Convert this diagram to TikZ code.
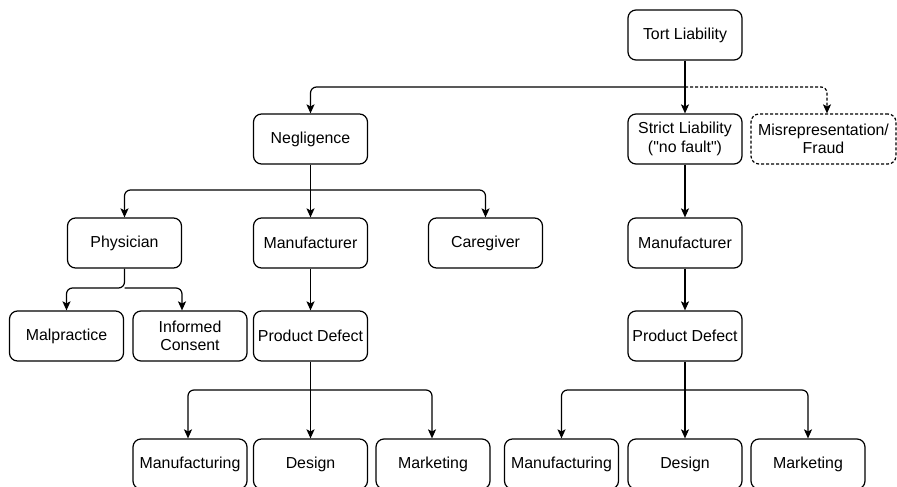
\documentclass[tikz,border=0pt]{standalone}
\usepackage{fontspec}
\setmainfont{Liberation Sans}
\usetikzlibrary{arrows.meta,calc}

\tikzset{
  box/.style={draw=black, line width=1.2pt, rounded corners=8pt,
    minimum width=114pt, minimum height=50pt, inner sep=2pt,
    align=center, font=\fontsize{15.9}{18.5}\selectfont},
  dashbox/.style={box, dashed, dash pattern=on 3pt off 2pt},
  arr/.style={draw=black, line width=1.2pt, rounded corners=6pt,
    -{Stealth[length=9pt,width=8pt,inset=2pt]}},
  dasharr/.style={arr, dash pattern=on 3pt off 2pt}
}

\begin{document}
\begin{tikzpicture}[x=1pt, y=-1pt]
  \useasboundingbox (0,0) rectangle (897,487);
  \clip (0,0) rectangle (897,487);

  % top level
  \node[box] (tort) at (685,35) {Tort Liability};
  \node[box] (neg) at (310.5,139) {Negligence};
  \node[box] (strict) at (685,139) {Strict Liability\\(\textquotedbl no fault\textquotedbl)};
  \node[dashbox, minimum width=145pt] (misrep) at (823.5,139) {Misrepresentation/\\Fraud};

  % negligence branch
  \node[box] (phys) at (124.5,243) {Physician};
  \node[box] (manN) at (310.5,243) {Manufacturer};
  \node[box] (care) at (485.5,243) {Caregiver};
  \node[box] (malp) at (66.5,336) {Malpractice};
  \node[box] (inf) at (190,336) {Informed\\Consent};
  \node[box] (pdN) at (310.5,336) {Product Defect};
  \node[box] (mfgN) at (190,464) {Manufacturing};
  \node[box] (desN) at (310.5,464) {Design};
  \node[box] (mktN) at (433,464) {Marketing};

  % strict liability branch
  \node[box] (manS) at (685,243) {Manufacturer};
  \node[box] (pdS) at (685,336) {Product Defect};
  \node[box] (mfgS) at (561.5,464) {Manufacturing};
  \node[box] (desS) at (685,464) {Design};
  \node[box] (mktS) at (808,464) {Marketing};

  % branch points
  \coordinate (b0) at (685,87);
  \coordinate (b1) at (310.5,190);
  \coordinate (b2) at (124.5,288);
  \coordinate (b3) at (310.5,390);
  \coordinate (b4) at (685,390);

  % connectors from Tort Liability
  \draw[arr] (tort.south) -- (strict.north);
  \draw[arr] (b0) -| (neg.north);
  \draw[dasharr] (b0) -| ($(misrep.north)+(3.5,0)$);

  % connectors from Negligence
  \draw[arr] (neg.south) -- (manN.north);
  \draw[arr] (b1) -| (phys.north);
  \draw[arr] (b1) -| (care.north);

  % connectors from Physician
  \draw[arr] (phys.south) -- (b2) -| (malp.north);
  \draw[arr] (b2) -| ($(inf.north)+(-8,0)$);

  % negligence manufacturer chain
  \draw[arr] (manN.south) -- (pdN.north);
  \draw[arr] (pdN.south) -- (desN.north);
  \draw[arr] (b3) -| ($(mfgN.north)+(-2,0)$);
  \draw[arr] (b3) -| ($(mktN.north)+(-1,0)$);

  % strict liability chain
  \draw[arr] (strict.south) -- (manS.north);
  \draw[arr] (manS.south) -- (pdS.north);
  \draw[arr] (pdS.south) -- (desS.north);
  \draw[arr] (b4) -| (mfgS.north);
  \draw[arr] (b4) -| (mktS.north);
\end{tikzpicture}
\end{document}
